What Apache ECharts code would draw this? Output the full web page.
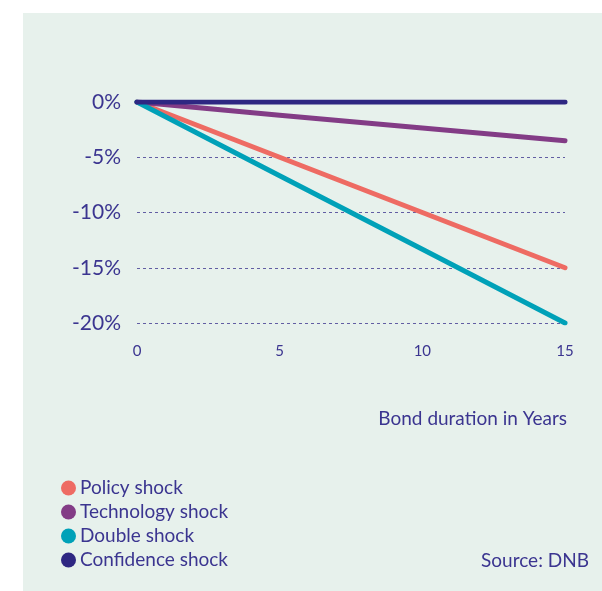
<!DOCTYPE html>
<html>
<head>
<meta charset="utf-8">
<script src="https://cdn.jsdelivr.net/npm/echarts@6/dist/echarts.min.js"></script>
<style>
  html, body { margin: 0; padding: 0; background: #ffffff; }
  #chart { width: 602px; height: 591px; }
</style>
</head>
<body>
<div id="chart"></div>
<script>
// Bond duration (years) and the price impact under each scenario (%)
const durations = [0, 5, 10, 15];
const policyShock = [0, -5, -10, -15];
const technologyShock = [0, -1.2, -2.35, -3.5];
const doubleShock = [0, -6.67, -13.33, -20];
const confidenceShock = [0, 0, 0, 0];

const seriesNames = ['Policy shock', 'Technology shock', 'Double shock', 'Confidence shock'];
const seriesValues = [policyShock, technologyShock, doubleShock, confidenceShock];
const seriesColors = ['#ee6b63', '#833c86', '#00a1b8', '#2e2782'];

const textColor = '#3b3590';
const fontFamily = 'Lato, "Open Sans", sans-serif';

const chart = echarts.init(document.getElementById('chart'), null, { renderer: 'canvas' });

chart.setOption({
  backgroundColor: '#ffffff',
  animation: false,
  graphic: [
    {
      type: 'rect',
      left: 23, top: 13,
      shape: { width: 602 - 23, height: 591 - 13 },
      style: { fill: '#e7f1ec' },
      z: -10
    },
    {
      type: 'text',
      right: 35, top: 409,
      style: { text: 'Bond duration in Years', fill: textColor, font: '19px ' + fontFamily }
    },
    {
      type: 'text',
      right: 13, top: 551,
      style: { text: 'Source: DNB', fill: textColor, font: '19px ' + fontFamily }
    }
  ],
  grid: { left: 137, top: 102, width: 428, height: 221, containLabel: false },
  xAxis: {
    type: 'value',
    min: 0, max: 15, interval: 5,
    axisLine: { show: false },
    axisTick: { show: false },
    splitLine: { show: false },
    axisLabel: { color: textColor, fontSize: 15, fontFamily: fontFamily, margin: 21 }
  },
  yAxis: {
    type: 'value',
    min: -20, max: 0, interval: 5,
    axisLine: { show: false },
    axisTick: { show: false },
    axisLabel: {
      color: textColor, fontSize: 21, fontFamily: fontFamily, margin: 16,
      formatter: v => v + '%'
    },
    splitLine: {
      show: true,
      lineStyle: { color: '#4a4496', type: [3, 3], width: 1, opacity: 0.85 }
    }
  },
  legend: {
    orient: 'vertical',
    left: 56, top: 473,
    itemWidth: 15, itemHeight: 15, itemGap: 4,
    icon: 'circle',
    textStyle: { color: textColor, fontSize: 19, lineHeight: 20, fontFamily: fontFamily, padding: [0, 0, 0, -1] },
    data: seriesNames
  },
  series: seriesNames.map((name, i) => ({
    name: name,
    type: 'line',
    data: durations.map((d, j) => [d, seriesValues[i][j]]),
    showSymbol: false,
    symbol: 'none',
    color: seriesColors[i],
    lineStyle: { width: 5, cap: 'round', join: 'round', color: seriesColors[i] },
    z: 2 + i
  }))
});
</script>
</body>
</html>
